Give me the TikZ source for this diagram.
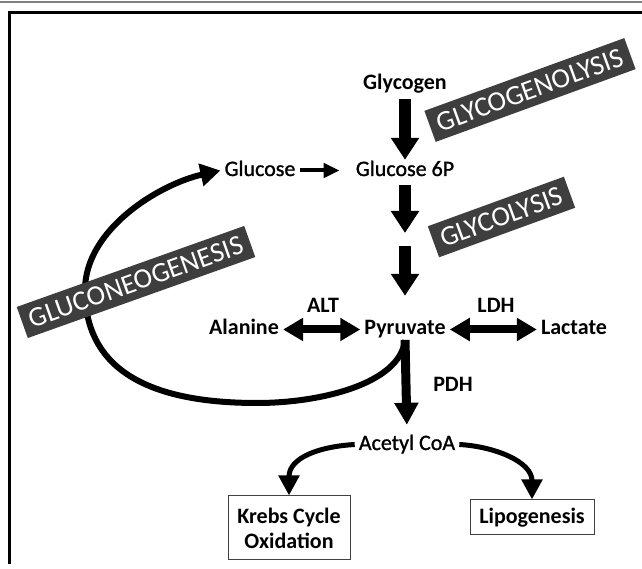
\documentclass[tikz,border=0pt]{standalone}
\usepackage{fontspec}
\setmainfont{Carlito}
\newfontfamily\medfont[FakeBold=1.2]{Carlito}
\usepackage{xcolor}
\usetikzlibrary{arrows.meta}
\definecolor{bandgray}{HTML}{3E3E3E}
\tikzset{
  met/.style={font=\fontsize{22}{25}\selectfont\medfont, inner sep=4pt, text height=16pt, text depth=5pt, anchor=base},
  metb/.style={met, font=\fontsize{22}{25}\selectfont\bfseries},
  band/.style={fill=bandgray, text=white, font=\fontsize{28}{30}\selectfont, inner xsep=8pt, inner ysep=0pt, minimum height=33pt},
  endbox/.style={draw=black!75, line width=1pt, font=\fontsize{22}{25}\selectfont\bfseries, align=center, inner sep=0pt},
  bigarrow/.style={line width=12pt, -{Triangle[width=27pt,length=22pt]}},
  dblarrow/.style={line width=8pt, {Triangle[width=22pt,length=20pt]}-{Triangle[width=22pt,length=20pt]}},
  thinarrow/.style={line width=4pt, -{Triangle[width=14pt,length=16pt]}},
  curvearrow/.style={line width=6pt, -{Triangle[width=22pt,length=20pt]}},
  forkarrow/.style={line width=5pt, -{Triangle[width=20pt,length=20pt]}}
}
\begin{document}
\begin{tikzpicture}[x=1pt,y=1pt]
\useasboundingbox (0,0) rectangle (642,569);
\fill[white] (0,0) rectangle (642,569);
% frame
\draw[gray,line width=2pt] (0,567)--(642,567);
\draw[line width=3pt] (642,556)--(9,556)--(9,5);
% metabolites
\node[metb] (gly) at (405,479) {Glycogen};
\node[met] (glc) at (260,393) {Glucose};
\node[met] (g6p) at (405,393) {Glucose 6P};
\node[metb] (pyr) at (405,234) {Pyruvate};
\node[metb] (ala) at (244,234) {Alanine};
\node[metb] (lac) at (574,234) {Lactate};
\node[metb] (alt) at (323,256) {ALT};
\node[metb] (ldh) at (496,256) {LDH};
\node[metb] (pdh) at (453,177) {PDH};
\node[met] (acoa) at (407,119) {Acetyl CoA};
\node[endbox,minimum width=122pt,minimum height=64pt] (krebs) at (289,41) {Krebs Cycle\\Oxidation};
\node[endbox,minimum width=124pt,minimum height=35pt] (lipo) at (532,51.5) {Lipogenesis};
\coordinate (gap1) at (405,336);
\coordinate (gap2) at (405,323);
\coordinate (split) at (405,229);
% gluconeogenesis loop
\draw[curvearrow] (split) .. controls (400,185) and (320,166) .. (257,166)
  .. controls (140,166) and (85,205) .. (85,279)
  .. controls (85,340) and (160,385) .. (glc.west);
% main chain
\draw[bigarrow,shorten >=-4pt] (gly.south)--(g6p.north);
\draw[thinarrow,shorten >=12pt] (glc.east)--(g6p.west);
\draw[bigarrow] (g6p.south)--(gap1);
\draw[bigarrow,shorten >=19pt] (gap2)--(pyr.north);
\draw[dblarrow] (ala.east)--(pyr.west);
\draw[dblarrow] (pyr.east)--(lac.west);
\draw[line width=9pt,-{Triangle[width=23pt,length=22pt]},shorten >=5pt] (split)--(acoa.north);
\draw[forkarrow] (acoa.west) .. controls +(-35,-2) and +(0,38) .. (krebs.north);
\draw[forkarrow] (acoa.east) .. controls +(35,-2) and +(0,38) .. (lipo.north);
% pathway bands
\node[band,rotate=20] (glygen) at (530,479) {GLYCOGENOLYSIS};
\node[band,rotate=20] (glylys) at (501.5,352) {GLYCOLYSIS};
\node[band,rotate=19.6] (gluneo) at (136,287) {GLUCONEOGENESIS};
\end{tikzpicture}
\end{document}
